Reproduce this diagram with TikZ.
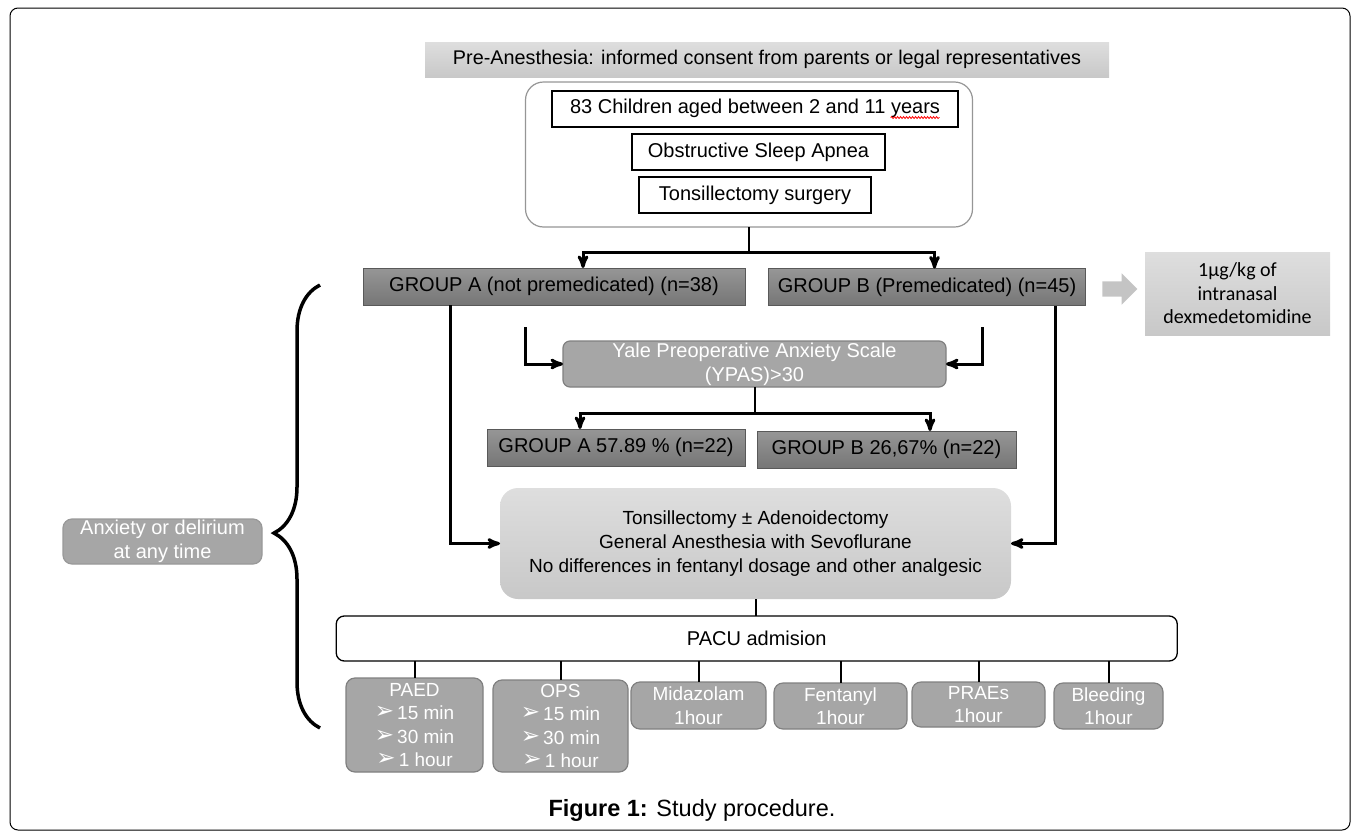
\documentclass[tikz,border=0pt]{standalone}
\usepackage{fontspec}
\setmainfont{Liberation Sans}
\newfontfamily\calfont{Carlito}
\newfontfamily\symfont{DejaVu Sans}
\usetikzlibrary{positioning,calc,arrows,shapes.arrows,decorations.pathreplacing,decorations.pathmorphing}
\definecolor{darktop}{RGB}{150,150,150}
\definecolor{darkbot}{RGB}{118,118,118}
\definecolor{softbox}{RGB}{166,166,166}
\definecolor{softline}{RGB}{128,128,128}
\definecolor{paletop}{RGB}{222,222,222}
\definecolor{palebot}{RGB}{200,200,200}
\definecolor{pushgray}{RGB}{196,196,196}
\definecolor{framegray}{RGB}{150,150,150}
\newsavebox\wavebox
\newcommand\spellwave[1]{\sbox\wavebox{#1}\usebox\wavebox\llap{\tikz[baseline=4pt]
    \draw[red, line width=0.8pt, decorate, decoration={snake, amplitude=1pt, segment length=3pt}]
    (0pt,0pt) -- (\wd\wavebox,0pt);}}
\newcommand\tip{\raisebox{1pt}{\symfont\fontsize{23}{23}\selectfont ➢}\,}

\begin{document}
\begin{tikzpicture}[x=1pt,y=-1pt,>=stealth',
    every node/.style={inner sep=0pt,outer sep=0pt,align=center},
    rule line/.style={line width=3pt},
    plain box/.style={draw,line width=1.3pt,fill=white,minimum height=36pt,
        font=\fontsize{20}{23}\selectfont},
    grp box/.style={draw=black!65,line width=1pt,top color=darktop,bottom color=darkbot,
        minimum height=37pt,font=\fontsize{20}{23}\selectfont},
    pale box/.style={top color=paletop,bottom color=palebot,font=\fontsize{19}{24}\selectfont},
    soft box/.style={draw=softline,line width=1.2pt,fill=softbox,rounded corners=9pt,
        text=white,font=\fontsize{19}{23.5}\selectfont}]
\useasboundingbox (0,0) rectangle (1360,838);
\draw[line width=1pt,rounded corners=8pt] (10,8) rectangle (1350,830);

%Top
    \node[pale box, minimum width=684pt, minimum height=35pt,
          font=\fontsize{19.8}{23}\selectfont] (consent) at (767,59.5)
          {Pre-Anesthesia: informed consent from parents or legal representatives};
    \node[draw=framegray, line width=1.2pt, rounded corners=18pt, fill=white,
          minimum width=447pt, minimum height=145pt] (cohort) at (749,154.5) {};
    \node[plain box, minimum width=406pt] (kids) at (755,109)
          {83 Children aged between 2 and 11 \spellwave{years}};
    \node[plain box, minimum width=253pt] (osa) at (758.5,152) {Obstructive Sleep Apnea};
    \node[plain box, minimum width=232pt] (tons) at (755,195) {Tonsillectomy surgery};

%Groups
    \node[grp box, minimum width=382pt] (grpA) at (554,286.5)
          {GROUP A (not premedicated) (n=38)};
    \node[grp box, minimum width=317pt] (grpB) at (927,287)
          {GROUP B (Premedicated) (n=45)};
    \node[single arrow, fill=pushgray, inner ysep=7.5pt, minimum height=35pt,
          single arrow head extend=8pt] (push) at (1116,289) {};
    \node[pale box, minimum width=185pt, minimum height=83pt,
          font=\calfont\fontsize{20}{23.5}\selectfont] (dexmed) at (1237.5,293.5)
          {1µg/kg of\\intranasal\\dexmedetomidine};

%YPAS
    \node[soft box, minimum width=383pt, minimum height=46pt, rounded corners=7pt,
          font=\fontsize{20}{24}\selectfont] (yale) at (754.5,364)
          {Yale Preoperative Anxiety Scale\\(YPAS)>30};
    \node[grp box, minimum width=258pt] (anxA) at (616,447.5)
          {GROUP A 57.89 \% (n=22)};
    \node[grp box, minimum width=259pt] (anxB) at (886.5,449.5)
          {GROUP B 26,67\% (n=22)};

%Surgery and PACU
    \node[pale box, rounded corners=18pt, minimum width=511pt, minimum height=111pt] (surg)
          at (755.5,543.5) {Tonsillectomy ± Adenoidectomy\\General Anesthesia with Sevoflurane\\
          No differences in fentanyl dosage and other analgesic};
    \node[draw, line width=1.3pt, rounded corners=8pt, minimum width=841pt, minimum height=45pt,
          font=\fontsize{20}{23}\selectfont] (pacu) at (756.75,638.5) {PACU admision};

    \node[soft box, minimum width=137pt, minimum height=94pt] (paed) at (414.5,725)
          {PAED\\\tip 15 min\\\tip 30 min\\\tip 1 hour};
    \node[soft box, minimum width=135pt, minimum height=92pt] (ops) at (560.5,726)
          {OPS\\\tip 15 min\\\tip 30 min\\\tip 1 hour};
    \node[soft box, minimum width=135pt, minimum height=47pt] (mida) at (698.5,705.5)
          {Midazolam\\1hour};
    \node[soft box, minimum width=133pt, minimum height=46pt] (fent) at (840.5,706)
          {Fentanyl\\1hour};
    \node[soft box, minimum width=133pt, minimum height=45pt] (prae) at (978.5,704.5)
          {PRAEs\\1hour};
    \node[soft box, minimum width=109pt, minimum height=46pt] (bleed) at (1108.5,706)
          {Bleeding\\1hour};

%Left
    \node[soft box, draw=softline!80, minimum width=199pt, minimum height=45pt,
          font=\fontsize{20}{24}\selectfont] (anytime) at (162.5,541.5)
          {Anxiety or delirium\\at any time};
    \coordinate (brace bot) at (320,728);
    \coordinate (brace top) at (320,285);
    \draw[line width=3.5pt, decorate, decoration={brace, amplitude=46pt, aspect=0.44}]
          (brace bot) -- (brace top);

%Connectors
    \draw[line width=2pt] (cohort.south) -- ++(0,25) coordinate (fork1);
    \draw[rule line, ->] (fork1) -| ([xshift=29pt]grpA.north);
    \draw[rule line, ->] (fork1) -| ([xshift=7.5pt]grpB.north);
    \coordinate (inA) at (525,327);
    \coordinate (inB) at (982,327);
    \draw[rule line, ->] (inA) |- (yale.west);
    \draw[rule line, ->] (inB) |- (yale.east);
    \draw[line width=2pt] (yale.south) -- ++(0,26) coordinate (fork2);
    \draw[rule line, ->] (fork2) -| ([xshift=-36pt]anxA.north);
    \draw[rule line, ->] (fork2) -| ([xshift=43.5pt]anxB.north);
    \draw[rule line, ->] ([xshift=-104pt]grpA.south) |- (surg.west);
    \draw[rule line, ->] ([xshift=128pt]grpB.south) |- (surg.east);
    \draw[line width=2pt] (surg.south) -- (pacu.north -| surg.south);
    \foreach \n in {paed,ops,mida,fent,prae,bleed}
        \draw[line width=2pt] (pacu.south -| \n.north) -- (\n.north);

    \node[font=\fontsize{23.5}{26}\selectfont] (caption) at (692,810)
          {\textbf{Figure 1:} Study procedure.};
\end{tikzpicture}
\end{document}
